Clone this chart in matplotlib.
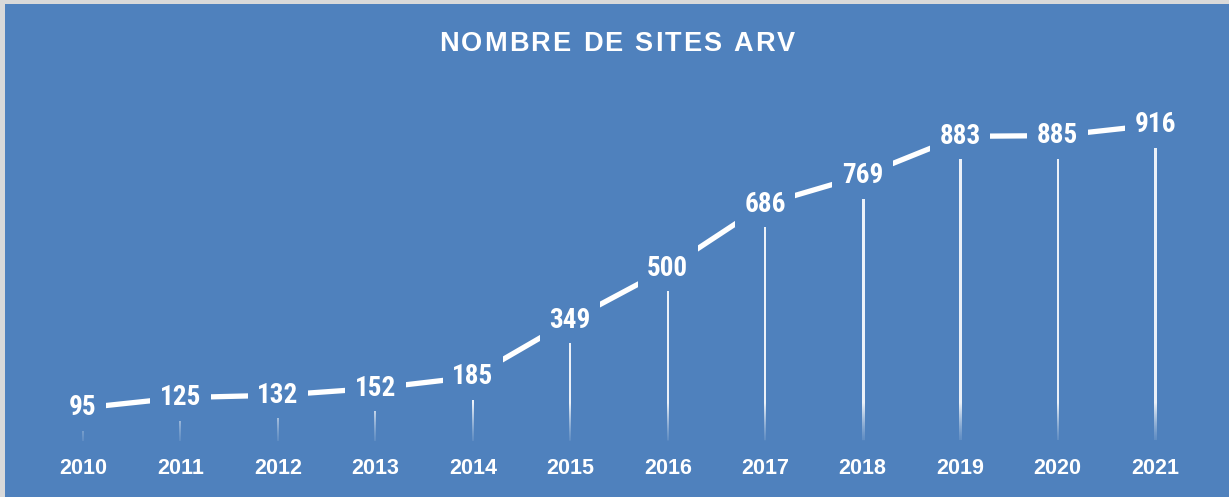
import numpy as np
import matplotlib
matplotlib.use("Agg")
import matplotlib.pyplot as plt
from matplotlib import font_manager

years = ["2010", "2011", "2012", "2013", "2014", "2015", "2016", "2017", "2018", "2019", "2020", "2021"]
sites = [95, 125, 132, 152, 185, 349, 500, 686, 769, 883, 885, 916]
title = "NOMBRE DE SITES ARV"

names = {f.name for f in font_manager.fontManager.ttflist}
narrow = "Liberation Sans Narrow" if "Liberation Sans Narrow" in names else "Roboto Condensed" if "Roboto Condensed" in names else "Liberation Sans"

BG = "#4F81BD"
W, H = 1229, 497
fig = plt.figure(figsize=(W / 100, H / 100), dpi=100)
fig.patch.set_facecolor("#D9D9D9")
bgax = fig.add_axes([5 / W, 0, 1 - 5 / W, 1 - 4 / H])
bgax.set_facecolor(BG)
bgax.set_xticks([]); bgax.set_yticks([])
for s in bgax.spines.values():
    s.set_visible(False)

x0px, x1px = 83, 1155
y0px = 440.7
scale = (408 - 125) / (916 - 95)
ax = fig.add_axes([0, 0, 1, 1])
ax.set_facecolor("none")
ax.axis("off")
xs = np.arange(len(years))
ppu = (x1px - x0px) / (len(years) - 1)
ax.set_xlim(-x0px / ppu, (W - x0px) / ppu)
ax.set_ylim(-(H - y0px) / scale, y0px / scale)

# drop lines with vertical fade (alpha depends on absolute height)
fade_top = 110
halfw = 1.0 / ppu
for x, v in zip(xs, sites):
    top = v - 17 / scale
    n = 300
    ys = np.linspace(0, top, n)
    al = np.clip(ys / fade_top, 0, 1) ** 1.3
    al = 0.1 + 0.8 * al
    al[0] = 0
    img = np.ones((n, 1, 4))
    img[:, 0, 3] = al
    ax.imshow(img, extent=[x - halfw, x + halfw, 0, top], origin="lower",
              aspect="auto", interpolation="bilinear", zorder=2)

ax.set_xlim(-x0px / ppu, (W - x0px) / ppu)
ax.set_ylim(-(H - y0px) / scale, y0px / scale)

ax.plot(xs, sites, color="white", lw=3.8, solid_capstyle="butt", zorder=3)

for x, v in zip(xs, sites):
    ax.text(x, v, str(v), ha="center", va="center", color="white", fontsize=19.5,
            fontweight="bold", family=narrow, zorder=5,
            bbox=dict(boxstyle="square,pad=0.35", fc=BG, ec="none"))

for x, y in zip(xs, years):
    ax.text(x, -(469 - y0px) / scale, y, ha="center", va="center", color="white",
            fontsize=15.5, fontweight="bold", family="Liberation Sans")

fig.canvas.draw()
r = fig.canvas.get_renderer()
fs = 19.5
spacing = 2.0
widths = []
for ch in title:
    t = fig.text(0, 0, ch if ch != " " else "n", fontsize=fs, fontweight="bold", family="Liberation Sans")
    bb = t.get_window_extent(r)
    widths.append(bb.width if ch != " " else bb.width * 0.5)
    t.remove()
total = sum(widths) + spacing * (len(title) - 1)
cx = 617
xpos = cx - total / 2
for ch, w in zip(title, widths):
    if ch != " ":
        fig.text(xpos / W, 1 - 44 / H, ch, fontsize=fs, fontweight="bold", family="Liberation Sans",
                 color="white", ha="left", va="center")
    xpos += w + spacing

fig.savefig("out.png", dpi=100, facecolor=fig.get_facecolor())
